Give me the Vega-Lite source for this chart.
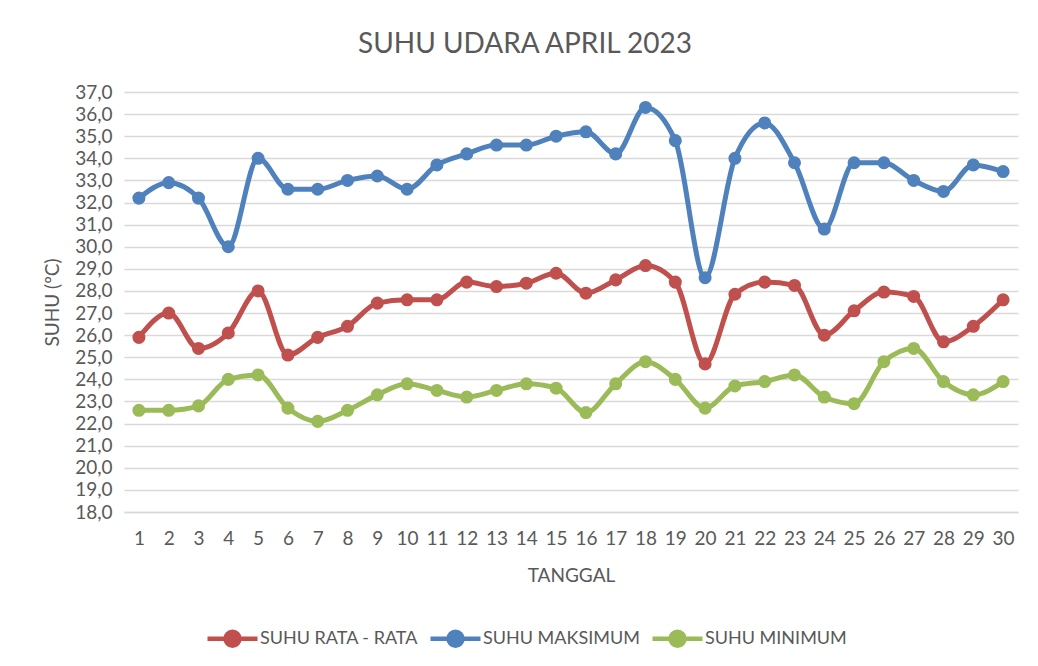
{
  "$schema": "https://vega.github.io/schema/vega-lite/v6.json",
  "autosize": {"type": "none"},
  "width": 894,
  "height": 420,
  "padding": {"left": 124, "top": 92, "right": 20, "bottom": 154},
  "background": "white",
  "config": {
    "font": "Lato",
    "view": {"stroke": null},
    "axis": {"labelColor": "#595959", "titleColor": "#595959", "labelFont": "Lato", "titleFont": "Lato", "titleFontWeight": "normal"}
  },
  "title": {"text": "SUHU UDARA APRIL 2023", "fontSize": 28, "fontWeight": "normal", "color": "#595959", "font": "Lato", "offset": 24, "anchor": "middle", "frame": "group", "dx": -46},
  "data": {"values": [
    {"tanggal": 1, "seri": "SUHU RATA - RATA", "suhu": 25.9},
    {"tanggal": 2, "seri": "SUHU RATA - RATA", "suhu": 27.0},
    {"tanggal": 3, "seri": "SUHU RATA - RATA", "suhu": 25.4},
    {"tanggal": 4, "seri": "SUHU RATA - RATA", "suhu": 26.1},
    {"tanggal": 5, "seri": "SUHU RATA - RATA", "suhu": 28.0},
    {"tanggal": 6, "seri": "SUHU RATA - RATA", "suhu": 25.1},
    {"tanggal": 7, "seri": "SUHU RATA - RATA", "suhu": 25.9},
    {"tanggal": 8, "seri": "SUHU RATA - RATA", "suhu": 26.4},
    {"tanggal": 9, "seri": "SUHU RATA - RATA", "suhu": 27.45},
    {"tanggal": 10, "seri": "SUHU RATA - RATA", "suhu": 27.6},
    {"tanggal": 11, "seri": "SUHU RATA - RATA", "suhu": 27.6},
    {"tanggal": 12, "seri": "SUHU RATA - RATA", "suhu": 28.4},
    {"tanggal": 13, "seri": "SUHU RATA - RATA", "suhu": 28.2},
    {"tanggal": 14, "seri": "SUHU RATA - RATA", "suhu": 28.35},
    {"tanggal": 15, "seri": "SUHU RATA - RATA", "suhu": 28.8},
    {"tanggal": 16, "seri": "SUHU RATA - RATA", "suhu": 27.9},
    {"tanggal": 17, "seri": "SUHU RATA - RATA", "suhu": 28.5},
    {"tanggal": 18, "seri": "SUHU RATA - RATA", "suhu": 29.15},
    {"tanggal": 19, "seri": "SUHU RATA - RATA", "suhu": 28.4},
    {"tanggal": 20, "seri": "SUHU RATA - RATA", "suhu": 24.7},
    {"tanggal": 21, "seri": "SUHU RATA - RATA", "suhu": 27.85},
    {"tanggal": 22, "seri": "SUHU RATA - RATA", "suhu": 28.4},
    {"tanggal": 23, "seri": "SUHU RATA - RATA", "suhu": 28.25},
    {"tanggal": 24, "seri": "SUHU RATA - RATA", "suhu": 26.0},
    {"tanggal": 25, "seri": "SUHU RATA - RATA", "suhu": 27.1},
    {"tanggal": 26, "seri": "SUHU RATA - RATA", "suhu": 27.95},
    {"tanggal": 27, "seri": "SUHU RATA - RATA", "suhu": 27.75},
    {"tanggal": 28, "seri": "SUHU RATA - RATA", "suhu": 25.7},
    {"tanggal": 29, "seri": "SUHU RATA - RATA", "suhu": 26.4},
    {"tanggal": 30, "seri": "SUHU RATA - RATA", "suhu": 27.6},
    {"tanggal": 1, "seri": "SUHU MAKSIMUM", "suhu": 32.2},
    {"tanggal": 2, "seri": "SUHU MAKSIMUM", "suhu": 32.9},
    {"tanggal": 3, "seri": "SUHU MAKSIMUM", "suhu": 32.2},
    {"tanggal": 4, "seri": "SUHU MAKSIMUM", "suhu": 30.0},
    {"tanggal": 5, "seri": "SUHU MAKSIMUM", "suhu": 34.0},
    {"tanggal": 6, "seri": "SUHU MAKSIMUM", "suhu": 32.6},
    {"tanggal": 7, "seri": "SUHU MAKSIMUM", "suhu": 32.6},
    {"tanggal": 8, "seri": "SUHU MAKSIMUM", "suhu": 33.0},
    {"tanggal": 9, "seri": "SUHU MAKSIMUM", "suhu": 33.2},
    {"tanggal": 10, "seri": "SUHU MAKSIMUM", "suhu": 32.6},
    {"tanggal": 11, "seri": "SUHU MAKSIMUM", "suhu": 33.7},
    {"tanggal": 12, "seri": "SUHU MAKSIMUM", "suhu": 34.2},
    {"tanggal": 13, "seri": "SUHU MAKSIMUM", "suhu": 34.6},
    {"tanggal": 14, "seri": "SUHU MAKSIMUM", "suhu": 34.6},
    {"tanggal": 15, "seri": "SUHU MAKSIMUM", "suhu": 35.0},
    {"tanggal": 16, "seri": "SUHU MAKSIMUM", "suhu": 35.2},
    {"tanggal": 17, "seri": "SUHU MAKSIMUM", "suhu": 34.2},
    {"tanggal": 18, "seri": "SUHU MAKSIMUM", "suhu": 36.3},
    {"tanggal": 19, "seri": "SUHU MAKSIMUM", "suhu": 34.8},
    {"tanggal": 20, "seri": "SUHU MAKSIMUM", "suhu": 28.6},
    {"tanggal": 21, "seri": "SUHU MAKSIMUM", "suhu": 34.0},
    {"tanggal": 22, "seri": "SUHU MAKSIMUM", "suhu": 35.6},
    {"tanggal": 23, "seri": "SUHU MAKSIMUM", "suhu": 33.8},
    {"tanggal": 24, "seri": "SUHU MAKSIMUM", "suhu": 30.8},
    {"tanggal": 25, "seri": "SUHU MAKSIMUM", "suhu": 33.8},
    {"tanggal": 26, "seri": "SUHU MAKSIMUM", "suhu": 33.8},
    {"tanggal": 27, "seri": "SUHU MAKSIMUM", "suhu": 33.0},
    {"tanggal": 28, "seri": "SUHU MAKSIMUM", "suhu": 32.5},
    {"tanggal": 29, "seri": "SUHU MAKSIMUM", "suhu": 33.7},
    {"tanggal": 30, "seri": "SUHU MAKSIMUM", "suhu": 33.4},
    {"tanggal": 1, "seri": "SUHU MINIMUM", "suhu": 22.6},
    {"tanggal": 2, "seri": "SUHU MINIMUM", "suhu": 22.6},
    {"tanggal": 3, "seri": "SUHU MINIMUM", "suhu": 22.8},
    {"tanggal": 4, "seri": "SUHU MINIMUM", "suhu": 24.0},
    {"tanggal": 5, "seri": "SUHU MINIMUM", "suhu": 24.2},
    {"tanggal": 6, "seri": "SUHU MINIMUM", "suhu": 22.7},
    {"tanggal": 7, "seri": "SUHU MINIMUM", "suhu": 22.1},
    {"tanggal": 8, "seri": "SUHU MINIMUM", "suhu": 22.6},
    {"tanggal": 9, "seri": "SUHU MINIMUM", "suhu": 23.3},
    {"tanggal": 10, "seri": "SUHU MINIMUM", "suhu": 23.8},
    {"tanggal": 11, "seri": "SUHU MINIMUM", "suhu": 23.5},
    {"tanggal": 12, "seri": "SUHU MINIMUM", "suhu": 23.2},
    {"tanggal": 13, "seri": "SUHU MINIMUM", "suhu": 23.5},
    {"tanggal": 14, "seri": "SUHU MINIMUM", "suhu": 23.8},
    {"tanggal": 15, "seri": "SUHU MINIMUM", "suhu": 23.6},
    {"tanggal": 16, "seri": "SUHU MINIMUM", "suhu": 22.5},
    {"tanggal": 17, "seri": "SUHU MINIMUM", "suhu": 23.8},
    {"tanggal": 18, "seri": "SUHU MINIMUM", "suhu": 24.8},
    {"tanggal": 19, "seri": "SUHU MINIMUM", "suhu": 24.0},
    {"tanggal": 20, "seri": "SUHU MINIMUM", "suhu": 22.7},
    {"tanggal": 21, "seri": "SUHU MINIMUM", "suhu": 23.7},
    {"tanggal": 22, "seri": "SUHU MINIMUM", "suhu": 23.9},
    {"tanggal": 23, "seri": "SUHU MINIMUM", "suhu": 24.2},
    {"tanggal": 24, "seri": "SUHU MINIMUM", "suhu": 23.2},
    {"tanggal": 25, "seri": "SUHU MINIMUM", "suhu": 22.9},
    {"tanggal": 26, "seri": "SUHU MINIMUM", "suhu": 24.8},
    {"tanggal": 27, "seri": "SUHU MINIMUM", "suhu": 25.4},
    {"tanggal": 28, "seri": "SUHU MINIMUM", "suhu": 23.9},
    {"tanggal": 29, "seri": "SUHU MINIMUM", "suhu": 23.3},
    {"tanggal": 30, "seri": "SUHU MINIMUM", "suhu": 23.9}
  ]},
  "encoding": {
    "x": {
      "field": "tanggal", "type": "ordinal",
      "scale": {"type": "point", "padding": 0.5},
      "axis": {"title": "TANGGAL", "labelAngle": 0, "ticks": false, "domain": true, "domainColor": "#D9D9D9", "domainWidth": 1.5, "grid": false, "labelFontSize": 19, "labelPadding": 17, "labelOverlap": false, "titleFontSize": 19, "titlePadding": 18}
    },
    "y": {
      "field": "suhu", "type": "quantitative",
      "scale": {"domain": [18, 37], "nice": false, "zero": false},
      "axis": {"title": "SUHU (ºC)", "values": [18,19,20,21,22,23,24,25,26,27,28,29,30,31,32,33,34,35,36,37], "labelOverlap": false, "labelExpr": "replace(format(datum.value, '.1f'), '.', ',')", "ticks": false, "domain": false, "grid": true, "gridColor": "#D9D9D9", "gridWidth": 1.5, "labelFontSize": 19, "labelPadding": 12, "titleFontSize": 19, "titlePadding": 12}
    },
    "color": {
      "field": "seri", "type": "nominal",
      "scale": {"domain": ["SUHU RATA - RATA", "SUHU MAKSIMUM", "SUHU MINIMUM"], "range": ["#C0504D", "#4F81BD", "#9BBB59"]},
      "legend": {
        "title": null, "orient": "none", "direction": "horizontal", "legendX": 81, "legendY": 519,
        "symbolType": "M-1,0H1M-0.28,0A0.28,0.28 0 1,1 0.28,0A0.28,0.28 0 1,1 -0.28,0",
        "symbolSize": 2500, "symbolStrokeWidth": 4.5, "labelFontSize": 18, "labelLimit": 400, "labelColor": "#595959", "labelFont": "Lato", "labelOffset": 0, "columnPadding": 3,
        "encode": {"symbols": {"update": {"fill": {"scale": "color", "field": "value"}, "stroke": {"scale": "color", "field": "value"}, "fillOpacity": {"value": 1}}}}
      }
    }
  },
  "layer": [
    {"mark": {"type": "line", "interpolate": "monotone", "strokeWidth": 5}},
    {"mark": {"type": "point", "filled": true, "size": 170, "opacity": 1}}
  ]
}
